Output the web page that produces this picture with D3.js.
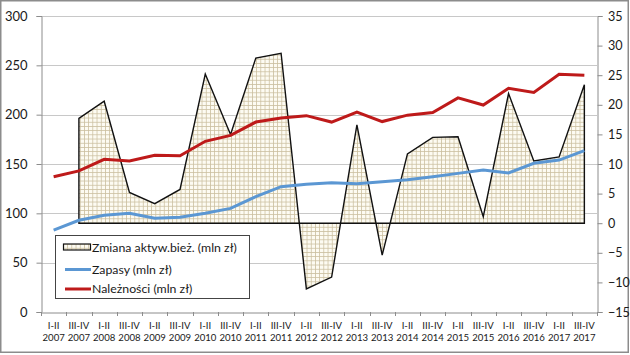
<!DOCTYPE html>
<html><head><meta charset="utf-8">
<script src="https://cdn.jsdelivr.net/npm/d3@7"></script>
<style>body{margin:0;background:#fff}svg{display:block}text{font-family:Lato,"Liberation Sans",sans-serif;fill:#1a1a1a}</style>
</head><body><svg id="c" width="630" height="355"></svg>
<script>
const categories = ["I-II 2007","III-IV 2007","I-II 2008","III-IV 2008","I-II 2009","III-IV 2009","I-II 2010","III-IV 2010","I-II 2011","III-IV 2011","I-II 2012","III-IV 2012","I-II 2013","III-IV 2013","I-II 2014","III-IV 2014","I-II 2015","III-IV 2015","I-II 2016","III-IV 2016","I-II 2017","III-IV 2017"];
const zmiana = [null,17.7,20.6,5.2,3.3,5.7,25.2,15.0,27.9,28.7,-11.1,-9.1,16.6,-5.4,11.7,14.5,14.6,1.1,21.9,10.5,11.2,23.4];
const zapasy = [83,93,98,100,95,96,100,105,117,127,129.5,131,130,132,134,137,140.5,144,141,150.7,154,163.5];
const naleznosci = [137,143,154.8,153,158.8,158.4,173,179,192.5,196.6,199,192.5,202.7,193,199.5,202.1,217,209.8,226.7,222.6,240.9,240];
const leftTicks = [0,50,100,150,200,250,300];
const rightTicks = [-15,-10,-5,0,5,10,15,20,25,30,35];
const seriesNames = ["Zmiana aktyw.bież. (mln zł)","Zapasy (mln zł)","Należności (mln zł)"];

const svg = d3.select("#c");
const L = 41, R = 597, T = 16, B = 312;
const x = d3.scaleBand().domain(categories).range([L, R]);
const cx = c => x(c) + x.bandwidth()/2;
const yL = d3.scaleLinear().domain([0,300]).range([B,T]);
const yR = d3.scaleLinear().domain([-15,35]).range([B,T]);

svg.append("rect").attr("x",0.75).attr("y",0.75).attr("width",627.5).attr("height",351.5)
  .attr("fill","#fff").attr("stroke","#8c8c8c").attr("stroke-width",1.5);

const defs = svg.append("defs");
const pat = defs.append("pattern").attr("id","grid").attr("patternUnits","userSpaceOnUse")
  .attr("width",4.2).attr("height",4.2);
pat.append("rect").attr("width",4.2).attr("height",4.2).attr("fill","#fdfbf2");
pat.append("path").attr("d","M0,0.4H4.2M0.4,0V4.2").attr("stroke","#cbbf9f").attr("stroke-width",0.8);

// gridlines
svg.append("g").selectAll("line").data(leftTicks.filter(d=>d>0)).join("line")
  .attr("x1",L).attr("x2",R).attr("y1",d=>Math.round(yL(d))+0.5).attr("y2",d=>Math.round(yL(d))+0.5)
  .attr("stroke","#c8c8c8").attr("stroke-width",1);

// axes
const gl = svg.append("g").attr("transform",`translate(${L+0.5},0)`)
  .call(d3.axisLeft(yL).tickValues(leftTicks).tickSize(5).tickPadding(9));
const gr = svg.append("g").attr("transform",`translate(${R+0.5},0)`)
  .call(d3.axisRight(yR).tickValues(rightTicks).tickSize(5).tickPadding(5.5));
const gx = svg.append("g").attr("transform",`translate(0,${B+0.5})`)
  .call(d3.axisBottom(x).tickSize(0).tickFormat(""));
[gl,gr,gx].forEach(g=>{g.selectAll("path.domain").attr("stroke","#8c8c8c");g.selectAll("line").attr("stroke","#8c8c8c");});
gl.selectAll("text").attr("font-size",13).attr("font-family","Lato,sans-serif").attr("fill","#1a1a1a");
gr.selectAll("text").attr("font-size",12.6).attr("font-family","Lato,sans-serif").attr("fill","#1a1a1a");
// x band-boundary ticks
const bounds = categories.map(c=>x(c)).concat([R]);
svg.append("g").selectAll("line").data(bounds).join("line")
  .attr("x1",d=>Math.round(d)+0.5).attr("x2",d=>Math.round(d)+0.5).attr("y1",B).attr("y2",B+4)
  .attr("stroke","#8c8c8c");
const xl = svg.append("g").selectAll("text").data(categories).join("text")
  .attr("x",d=>cx(d)).attr("text-anchor","middle").attr("font-size",9.6);
xl.append("tspan").attr("x",d=>cx(d)).attr("y",329).text(d=>d.split(" ")[0]);
xl.append("tspan").attr("x",d=>cx(d)).attr("y",340.5).text(d=>d.split(" ")[1]);

// area
const area = d3.area().defined(d=>d.v!==null).x(d=>cx(d.c)).y0(yR(0)).y1(d=>yR(d.v));
const zd = categories.map((c,i)=>({c,v:zmiana[i]}));
svg.append("path").datum(zd).attr("d",d=>area(d)+"Z").attr("fill","url(#grid)")
  .attr("stroke","#111").attr("stroke-width",1.4).attr("stroke-linejoin","miter");

const line = d3.line().x(d=>cx(d.c)).y(d=>yL(d.v));
svg.append("path").datum(categories.map((c,i)=>({c,v:zapasy[i]}))).attr("d",line)
  .attr("fill","none").attr("stroke","#5b97d3").attr("stroke-width",3);
svg.append("path").datum(categories.map((c,i)=>({c,v:naleznosci[i]}))).attr("d",line)
  .attr("fill","none").attr("stroke","#be1a1a").attr("stroke-width",3);

// legend
const lg = svg.append("g");
lg.append("rect").attr("x",55.5).attr("y",235.5).attr("width",194).attr("height",63)
  .attr("fill","#fff").attr("stroke","#444").attr("stroke-width",1);
lg.append("rect").attr("x",63.5).attr("y",244).attr("width",27).attr("height",6)
  .attr("fill","url(#grid)").attr("stroke","#111").attr("stroke-width",1.2);
lg.append("line").attr("x1",65).attr("x2",91).attr("y1",269.5).attr("y2",269.5).attr("stroke","#5b97d3").attr("stroke-width",3);
lg.append("line").attr("x1",65).attr("x2",91).attr("y1",289).attr("y2",289).attr("stroke","#be1a1a").attr("stroke-width",3);
lg.selectAll("text.l").data(seriesNames).join("text").attr("class","l")
  .attr("x",92).attr("y",(d,i)=>[251.5,274,293][i]).attr("font-size",12.3).text(d=>d);
</script></body></html>
